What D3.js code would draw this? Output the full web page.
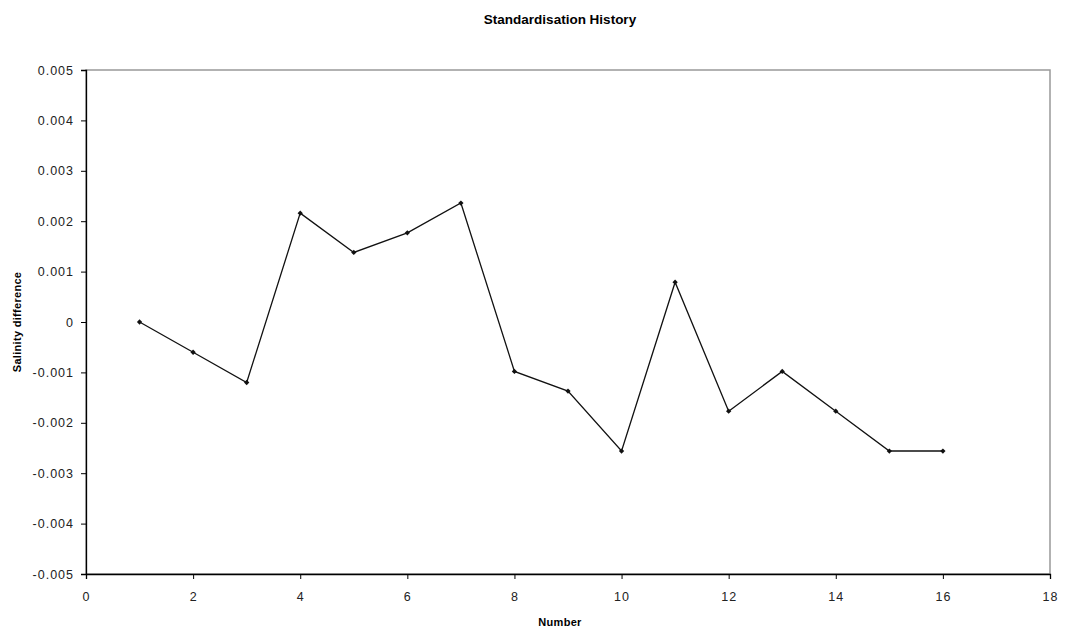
<!DOCTYPE html>
<html>
<head>
<meta charset="utf-8">
<script src="https://d3js.org/d3.v7.min.js"></script>
<style>
  body { margin: 0; background: #fff; }
  text { font-family: "Liberation Sans", Arial, sans-serif; }
</style>
</head>
<body>
<div id="chart"></div>
<script>
// data
const numbers = [1, 2, 3, 4, 5, 6, 7, 8, 9, 10, 11, 12, 13, 14, 15, 16];
const salinityDiff = [0, -0.0006, -0.0012, 0.00216, 0.00138, 0.00177, 0.00236, -0.00098,
  -0.00137, -0.00256, 0.00079, -0.00177, -0.00098, -0.00177, -0.00256, -0.00256];
const xTicks = [0, 2, 4, 6, 8, 10, 12, 14, 16, 18];
const yTicks = [-0.005, -0.004, -0.003, -0.002, -0.001, 0, 0.001, 0.002, 0.003, 0.004, 0.005];

const width = 1066, height = 632;
const margin = {left: 86, right: 16, top: 70, bottom: 58};

const svg = d3.select("#chart").append("svg")
    .attr("width", width)
    .attr("height", height);

const x = d3.scaleLinear().domain([0, 18]).range([margin.left, width - margin.right]);
const y = d3.scaleLinear().domain([-0.005, 0.005]).range([height - margin.bottom, margin.top]);

// plot border (grey)
svg.append("rect")
    .attr("x", x(0)).attr("y", y(0.005))
    .attr("width", x(18) - x(0)).attr("height", y(-0.005) - y(0.005))
    .attr("fill", "none").attr("stroke", "#999").attr("stroke-width", 1.5);

// axes
const yFmt = d => d === 0 ? "0" : d3.format(".3f")(d).replace("\u2212", "-");
const xAxis = svg.append("g")
    .attr("transform", `translate(0,${y(-0.005)})`)
    .call(d3.axisBottom(x).tickValues(xTicks).tickSize(5).tickPadding(13).tickFormat(d3.format("d")));
const yAxis = svg.append("g")
    .attr("transform", `translate(${x(0)},0)`)
    .call(d3.axisLeft(y).tickValues(yTicks).tickSize(5).tickPadding(7).tickFormat(yFmt));

[xAxis, yAxis].forEach(a => {
  a.select(".domain").attr("stroke", "#000").attr("stroke-width", 1.3);
  a.selectAll(".tick line").attr("stroke", "#000");
  a.selectAll(".tick text").attr("fill", "#222").style("font-size", "12.5px")
      .style("letter-spacing", "1px")
      .style("font-family", "'Liberation Sans', Arial, sans-serif");
});

// line
const pts = numbers.map((n, i) => [n, salinityDiff[i]]);
svg.append("path")
    .datum(pts)
    .attr("fill", "none")
    .attr("stroke", "#111")
    .attr("stroke-width", 1.3)
    .attr("d", d3.line().x(d => x(d[0])).y(d => y(d[1])));

// diamond markers
svg.append("g").selectAll("path")
    .data(pts)
    .enter().append("path")
    .attr("d", d3.symbol().type(d3.symbolSquare).size(14))
    .attr("transform", d => `translate(${x(d[0])},${y(d[1])}) rotate(45)`)
    .attr("fill", "#111");

// titles
svg.append("text")
    .attr("x", 560).attr("y", 24)
    .attr("text-anchor", "middle")
    .style("font-size", "13.5px").style("font-weight", "bold")
    .text("Standardisation History");

svg.append("text")
    .attr("x", 560).attr("y", 626)
    .attr("text-anchor", "middle")
    .style("font-size", "11px").style("font-weight", "bold")
    .style("letter-spacing", "0.3px")
    .text("Number");

svg.append("text")
    .attr("transform", `translate(21,${y(0)}) rotate(-90)`)
    .attr("text-anchor", "middle")
    .style("font-size", "11px").style("font-weight", "bold")
    .style("letter-spacing", "0.3px")
    .text("Salinity difference");
</script>
</body>
</html>
